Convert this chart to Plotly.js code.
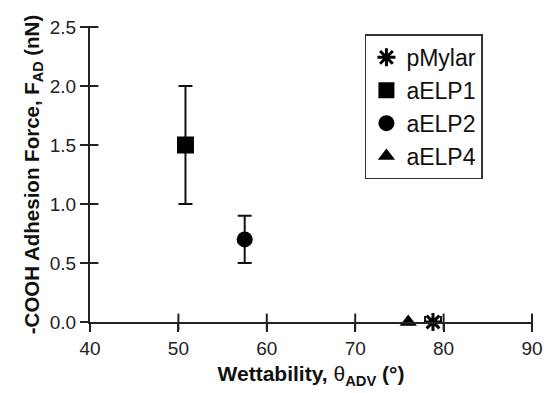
<!DOCTYPE html>
<html><head><meta charset="utf-8">
<script src="https://cdn.plot.ly/plotly-3.0.1.min.js"></script>
<style>html,body{margin:0;padding:0;background:#fff}#c{width:544px;height:393px}</style>
</head><body><div id="c"></div>
<script>
const names = ["pMylar", "aELP1", "aELP2", "aELP4"];
const wettability = [78.8, 50.8, 57.5, 76.0];
const force = [0.0, 1.5, 0.7, 0.0];
const forceErr = [0, 0.5, 0.2, 0];
const wettErr = [0.9, 0, 0, 0];
const symbols = ["asterisk-open", "square", "circle", "triangle-up"];
const sizes = [15, 17, 16, 15];
const xTicks = [40, 50, 60, 70, 80, 90];
const yTicks = [0, 0.5, 1.0, 1.5, 2.0, 2.5];
const yTickText = ["0.0", "0.5", "1.0", "1.5", "2.0", "2.5"];

const tickColor = "#222";
const traces = [];
// crossing tick marks: short line markers sitting on the axes
traces.push({type: "scatter", mode: "markers", x: xTicks.slice(1), y: xTicks.slice(1).map(() => 0),
  cliponaxis: false, showlegend: false, hoverinfo: "skip",
  marker: {symbol: "line-ns-open", size: 12, color: tickColor, line: {color: tickColor, width: 2}}});
traces.push({type: "scatter", mode: "markers", x: yTicks.slice(1).map(() => 40), y: yTicks.slice(1),
  cliponaxis: false, showlegend: false, hoverinfo: "skip",
  marker: {symbol: "line-ew-open", size: 12, color: tickColor, line: {color: tickColor, width: 2}}});
names.forEach((n, i) => traces.push({
  type: "scatter", mode: "markers", name: n,
  x: [wettability[i]], y: [force[i]],
  cliponaxis: false,
  marker: {symbol: symbols[i], size: sizes[i], color: "#000",
           line: {color: "#000", width: symbols[i] === "asterisk-open" ? 3 : 0}},
  error_y: {type: "data", array: [forceErr[i]], visible: forceErr[i] > 0, color: "#111", thickness: 2, width: 7},
  error_x: {type: "data", array: [wettErr[i]], visible: wettErr[i] > 0, color: "#111", thickness: 2, width: 6}
}));

const ff = "Liberation Sans, Arial, sans-serif";
const layout = {
  width: 544, height: 393,
  margin: {l: 90, r: 12, t: 27, b: 71},
  paper_bgcolor: "#fff", plot_bgcolor: "#fff",
  font: {family: ff, color: "#111", size: 17},
  showlegend: true,
  xaxis: {range: [40, 90], tickvals: xTicks, showgrid: false, zeroline: false,
    showline: true, linecolor: tickColor, linewidth: 2,
    ticks: "outside", ticklen: 8, tickwidth: 2, tickcolor: tickColor,
    tickfont: {size: 19, family: ff, color: "#222"},
    title: {text: "<b>Wettability, </b>θ<sub><b>ADV</b></sub><b> (°)</b>", font: {size: 21, family: ff, color: "#111"}, standoff: 9}},
  yaxis: {range: [0, 2.5], tickvals: yTicks, ticktext: yTickText, showgrid: false, zeroline: false,
    showline: true, linecolor: tickColor, linewidth: 2,
    ticks: "outside", ticklen: 8, tickwidth: 2, tickcolor: tickColor,
    tickfont: {size: 19, family: ff, color: "#222"},
    title: {text: "<b>-COOH Adhesion Force, F<sub>AD</sub> (nN)</b>", font: {size: 20.5, family: ff, color: "#111"}, standoff: 5}},
  legend: {x: 0.622, y: 0.975, xanchor: "left", yanchor: "top",
    bordercolor: "#333", borderwidth: 1.5, bgcolor: "#fff",
    font: {size: 23, family: ff, color: "#111"}, itemwidth: 30}
};
Plotly.newPlot("c", traces, layout, {displayModeBar: false, staticPlot: true});
</script></body></html>
